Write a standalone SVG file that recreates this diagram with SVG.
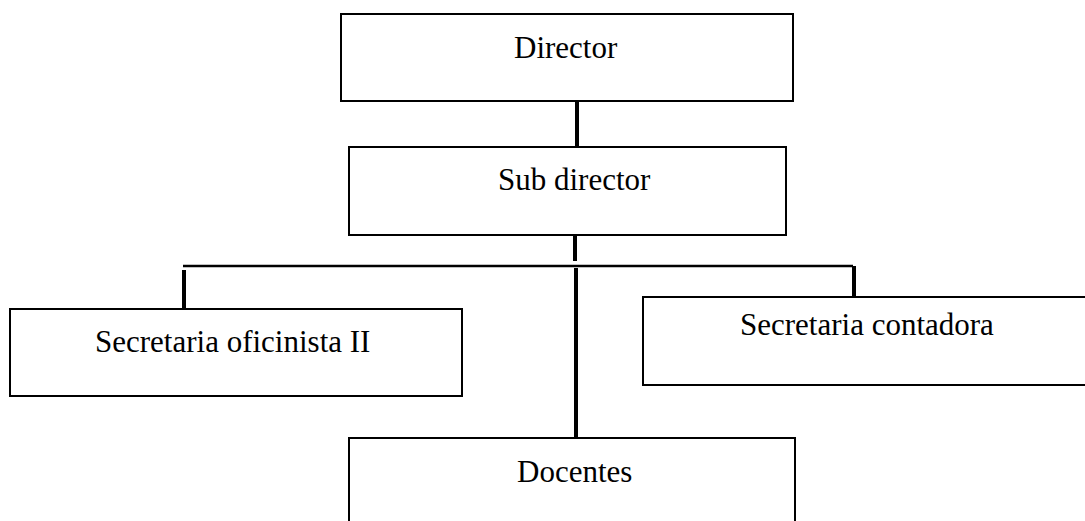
<svg xmlns="http://www.w3.org/2000/svg" width="1085" height="521" viewBox="0 0 1085 521">
<style>
.box{fill:#fff;stroke:#000;stroke-width:2}
.lbl{font-family:"Liberation Serif","Times New Roman",serif;font-size:31px;fill:#000}
.thick{stroke:#000;stroke-width:4;fill:none}
.thin{stroke:#000;stroke-width:2.5;fill:none}
</style>
<rect width="1085" height="521" fill="#fff"/>
<g id="connectors">
<line class="thick" x1="577" y1="98" x2="577" y2="152"/>
<line class="thick" x1="575" y1="232" x2="575" y2="261"/>
<line class="thin" x1="183" y1="266" x2="853" y2="266"/>
<line class="thick" x1="576" y1="268" x2="576" y2="438"/>
<line class="thick" x1="184" y1="270" x2="184" y2="312"/>
<line class="thick" x1="854" y1="266" x2="854" y2="301"/>
</g>
<g id="director">
<rect class="box" x="341" y="14" width="452" height="87"/>
<text class="lbl" x="514" y="58">Director</text>
</g>
<g id="subdirector">
<rect class="box" x="349" y="147" width="437" height="88"/>
<text class="lbl" x="498" y="190">Sub director</text>
</g>
<g id="secretaria-oficinista">
<rect class="box" x="10" y="309" width="452" height="87"/>
<text class="lbl" x="95" y="352">Secretaria oficinista II</text>
</g>
<g id="secretaria-contadora">
<rect class="box" x="643" y="297" width="450" height="88"/>
<text class="lbl" x="740" y="335">Secretaria contadora</text>
</g>
<g id="docentes">
<rect class="box" x="349" y="438" width="446" height="100"/>
<text class="lbl" x="517" y="482">Docentes</text>
</g>
</svg>
